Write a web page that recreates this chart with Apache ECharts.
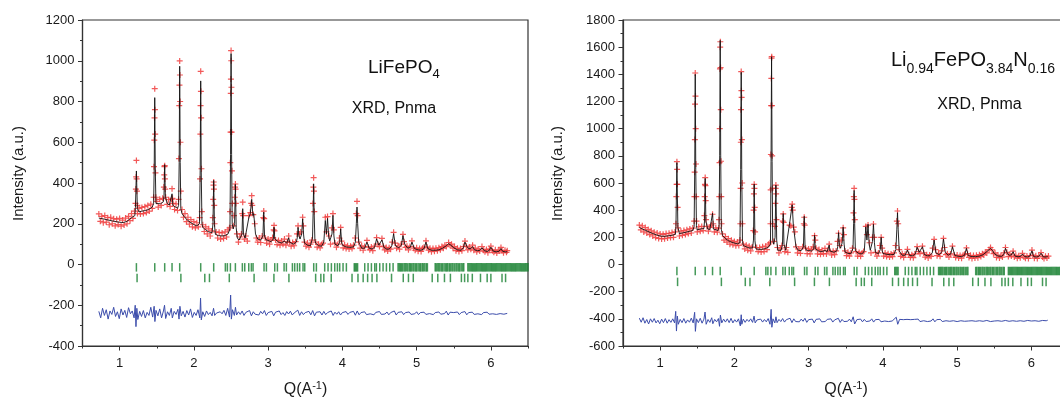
<!DOCTYPE html>
<html><head><meta charset="utf-8">
<script src="https://cdn.jsdelivr.net/npm/echarts@6/dist/echarts.min.js"></script>
<style>html,body{margin:0;padding:0;background:#fff}#c{width:1060px;height:397px}</style>
</head><body><div id="c"></div>
<script>
// ---------------- DATA ----------------
const xTickLabels = [1, 2, 3, 4, 5, 6];
const xMinorTicks = [0.5, 1.5, 2.5, 3.5, 4.5, 5.5, 6.5];

// reflection positions (Q), main phase (upper row) and second phase (lower row)
const phase1Ticks = [1.226,1.473,1.607,1.706,1.809,2.092,2.267,2.424,2.451,2.492,2.559,2.653,2.685,2.739,2.774,2.797,2.945,2.977,3.089,3.125,3.215,3.246,3.327,3.358,3.394,3.425,3.47,3.493,3.614,3.65,3.762,3.807,3.852,3.897,3.933,3.964,4.009,4.054,4.16,4.175,4.19,4.205,4.301,4.346,4.391,4.436,4.458,4.503,4.548,4.593,4.638,4.683,4.75,4.765,4.78,4.795,4.81,4.83,4.845,4.86,4.88,4.9,4.915,4.93,4.95,4.965,4.985,5.0,5.02,5.04,5.055,5.075,5.09,5.11,5.13,5.145,5.25,5.265,5.285,5.3,5.315,5.335,5.35,5.37,5.39,5.405,5.42,5.44,5.455,5.475,5.49,5.51,5.53,5.545,5.565,5.58,5.6,5.62,5.635,5.69,5.705,5.72,5.735,5.75,5.765,5.78,5.795,5.81,5.825,5.84,5.855,5.87,5.885,5.9,5.915,5.93,5.945,5.96,5.975,5.99,6.005,6.02,6.035,6.05,6.065,6.08,6.095,6.11,6.125,6.14,6.155,6.17,6.185,6.2,6.215,6.23,6.245,6.26,6.275,6.29,6.305,6.32,6.335,6.35,6.365,6.38,6.395,6.41,6.425,6.44,6.455,6.47,6.485,6.5];
const phase2Ticks = [1.235,1.825,2.147,2.21,2.477,2.811,3.078,3.28,3.64,3.71,3.75,3.85,4.13,4.21,4.28,4.34,4.40,4.465,4.662,4.82,4.89,4.955,5.21,5.285,5.375,5.455,5.603,5.646,5.69,5.75,5.86,5.95,6.0,6.15,6.198];

// ---- LiFePO4 (left) ----
const leftObs = [[0.72,248],[0.74,212],[0.76,236],[0.78,205],[0.80,240],[0.82,208],[0.84,230],[0.86,195],[0.88,232],[0.90,200],[0.92,225],[0.94,190],[0.96,222],[0.98,196],[1.00,226],[1.02,188],[1.04,218],[1.06,194],[1.08,228],[1.10,200],[1.12,236],[1.14,215],[1.16,250],[1.18,226],[1.20,262],[1.214,300],[1.219,370],[1.223,430],[1.226,511],[1.229,420],[1.233,360],[1.238,290],[1.24,250],[1.26,275],[1.28,248],[1.30,280],[1.32,250],[1.34,284],[1.36,255],[1.38,290],[1.40,262],[1.42,296],[1.44,275],[1.458,330],[1.463,480],[1.467,610],[1.470,720],[1.473,863],[1.476,760],[1.479,640],[1.483,450],[1.488,330],[1.50,310],[1.52,282],[1.54,320],[1.56,290],[1.58,325],[1.596,380],[1.601,440],[1.604,480],[1.607,485],[1.610,420],[1.614,370],[1.62,330],[1.64,295],[1.66,318],[1.68,285],[1.700,320],[1.706,372],[1.712,325],[1.72,300],[1.74,270],[1.76,298],[1.78,265],[1.794,320],[1.799,520],[1.803,780],[1.806,880],[1.809,999],[1.812,930],[1.815,800],[1.819,600],[1.824,360],[1.84,270],[1.86,232],[1.88,250],[1.90,210],[1.92,232],[1.94,198],[1.96,220],[1.98,185],[2.00,210],[2.02,180],[2.04,205],[2.06,185],[2.078,230],[2.083,420],[2.087,640],[2.090,780],[2.092,948],[2.095,850],[2.098,720],[2.102,470],[2.107,260],[2.12,195],[2.14,162],[2.16,185],[2.18,150],[2.20,175],[2.22,140],[2.24,165],[2.255,230],[2.260,320],[2.264,390],[2.267,405],[2.270,370],[2.274,290],[2.279,200],[2.30,160],[2.32,130],[2.34,158],[2.36,125],[2.38,155],[2.40,128],[2.42,160],[2.44,135],[2.46,170],[2.48,180],[2.487,260],[2.491,500],[2.494,650],[2.497,840],[2.499,910],[2.501,1050],[2.503,1000],[2.506,870],[2.509,650],[2.513,460],[2.518,300],[2.53,190],[2.54,240],[2.551,330],[2.555,380],[2.559,395],[2.562,370],[2.566,300],[2.58,150],[2.60,110],[2.62,135],[2.64,150],[2.652,250],[2.658,306],[2.664,240],[2.68,125],[2.70,140],[2.72,115],[2.74,240],[2.76,255],[2.772,300],[2.779,338],[2.786,290],[2.80,245],[2.82,200],[2.84,130],[2.86,110],[2.88,130],[2.90,108],[2.92,140],[2.935,230],[2.941,262],[2.947,225],[2.96,130],[2.98,105],[3.00,125],[3.02,100],[3.04,120],[3.06,132],[3.074,170],[3.08,192],[3.086,165],[3.10,120],[3.12,98],[3.14,118],[3.16,95],[3.18,115],[3.20,100],[3.22,125],[3.24,95],[3.26,112],[3.277,140],[3.29,108],[3.31,90],[3.33,108],[3.35,92],[3.37,112],[3.39,150],[3.403,190],[3.42,150],[3.44,160],[3.465,232],[3.475,190],[3.49,110],[3.51,90],[3.53,105],[3.55,85],[3.57,100],[3.59,120],[3.604,300],[3.609,380],[3.613,426],[3.617,360],[3.622,260],[3.64,110],[3.66,85],[3.68,100],[3.70,82],[3.72,98],[3.74,105],[3.77,232],[3.785,160],[3.80,235],[3.82,140],[3.84,100],[3.86,180],[3.873,250],[3.885,170],[3.90,105],[3.92,85],[3.94,100],[3.96,130],[3.977,182],[3.99,115],[4.01,82],[4.03,96],[4.05,78],[4.07,92],[4.09,76],[4.11,90],[4.13,78],[4.15,95],[4.17,130],[4.188,250],[4.197,310],[4.206,240],[4.22,110],[4.24,80],[4.26,92],[4.28,70],[4.30,88],[4.331,118],[4.35,85],[4.37,72],[4.39,86],[4.41,68],[4.43,90],[4.461,132],[4.48,100],[4.50,88],[4.533,128],[4.55,90],[4.57,72],[4.59,84],[4.61,66],[4.63,82],[4.65,75],[4.67,110],[4.69,158],[4.71,105],[4.73,80],[4.75,92],[4.77,75],[4.79,100],[4.816,148],[4.83,112],[4.85,84],[4.87,90],[4.89,72],[4.91,88],[4.937,116],[4.96,80],[4.98,70],[5.00,82],[5.02,65],[5.04,78],[5.06,64],[5.08,80],[5.10,85],[5.126,116],[5.14,86],[5.16,70],[5.18,80],[5.20,63],[5.22,78],[5.24,65],[5.26,80],[5.28,68],[5.30,82],[5.32,72],[5.34,88],[5.36,80],[5.38,95],[5.40,88],[5.431,108],[5.45,95],[5.47,100],[5.49,80],[5.51,88],[5.53,68],[5.55,80],[5.57,64],[5.59,78],[5.61,68],[5.63,88],[5.651,115],[5.67,90],[5.69,72],[5.71,86],[5.73,75],[5.754,95],[5.77,70],[5.79,80],[5.81,62],[5.83,76],[5.85,66],[5.88,88],[5.90,70],[5.92,62],[5.94,74],[5.96,58],[5.98,75],[6.00,90],[6.02,68],[6.04,60],[6.06,72],[6.08,56],[6.10,70],[6.12,66],[6.136,84],[6.15,68],[6.17,58],[6.19,70],[6.21,60],[6.22,68]];

const leftCalc = [[0.72,228],[0.80,222],[0.90,214],[1.00,207],[1.05,206],[1.10,212],[1.16,230],[1.205,240],[1.213,280],[1.226,459],[1.239,275],[1.26,258],[1.30,262],[1.35,265],[1.40,272],[1.44,282],[1.458,300],[1.466,480],[1.473,819],[1.480,480],[1.489,300],[1.50,292],[1.55,298],[1.59,308],[1.598,340],[1.607,490],[1.616,335],[1.64,300],[1.67,292],[1.695,295],[1.706,347],[1.717,290],[1.74,285],[1.78,276],[1.794,290],[1.802,500],[1.809,973],[1.816,500],[1.824,275],[1.84,250],[1.88,230],[1.92,216],[1.96,205],[2.00,196],[2.04,190],[2.075,200],[2.085,460],[2.092,901],[2.099,460],[2.109,200],[2.12,182],[2.16,170],[2.20,160],[2.245,156],[2.257,200],[2.267,413],[2.277,195],[2.29,148],[2.33,142],[2.38,140],[2.42,142],[2.46,150],[2.486,175],[2.494,540],[2.501,1035],[2.508,540],[2.516,200],[2.53,175],[2.548,200],[2.559,393],[2.57,180],[2.585,130],[2.61,120],[2.63,125],[2.648,150],[2.658,274],[2.668,150],[2.69,130],[2.71,128],[2.74,230],[2.76,250],[2.779,320],[2.795,240],[2.806,250],[2.83,150],[2.86,125],[2.90,120],[2.93,140],[2.941,257],[2.952,140],[2.97,122],[3.00,118],[3.04,112],[3.07,125],[3.08,183],[3.09,125],[3.10,118],[3.14,110],[3.18,106],[3.22,115],[3.25,104],[3.268,110],[3.277,131],[3.286,110],[3.30,103],[3.34,100],[3.38,110],[3.392,130],[3.403,182],[3.415,140],[3.43,125],[3.452,150],[3.465,224],[3.478,145],[3.49,105],[3.53,95],[3.57,92],[3.598,130],[3.606,250],[3.613,396],[3.620,250],[3.63,120],[3.64,105],[3.68,92],[3.72,90],[3.75,110],[3.77,216],[3.785,150],[3.80,226],[3.815,140],[3.83,115],[3.86,150],[3.873,241],[3.886,140],[3.90,100],[3.94,92],[3.965,110],[3.977,175],[3.99,110],[4.00,95],[4.05,86],[4.10,84],[4.15,86],[4.175,110],[4.188,200],[4.197,282],[4.206,200],[4.22,110],[4.26,80],[4.30,80],[4.331,110],[4.36,80],[4.40,76],[4.435,85],[4.461,126],[4.49,95],[4.51,100],[4.533,121],[4.56,84],[4.60,75],[4.63,76],[4.665,90],[4.69,151],[4.715,92],[4.76,82],[4.795,95],[4.816,142],[4.84,100],[4.88,80],[4.915,84],[4.937,110],[4.97,78],[5.02,72],[5.06,70],[5.10,78],[5.126,110],[5.15,78],[5.20,70],[5.25,70],[5.30,72],[5.35,80],[5.40,92],[5.431,102],[5.46,95],[5.50,82],[5.55,72],[5.60,70],[5.63,82],[5.651,110],[5.675,90],[5.70,78],[5.73,78],[5.754,88],[5.78,72],[5.82,68],[5.855,70],[5.88,82],[5.91,68],[5.95,64],[5.98,70],[6.00,85],[6.03,66],[6.07,62],[6.11,65],[6.136,78],[6.16,64],[6.20,62],[6.22,63]];

const leftDiff = [[0.72,-230],[0.745,-262],[0.77,-215],[0.795,-250],[0.82,-222],[0.845,-268],[0.87,-228],[0.895,-245],[0.92,-210],[0.945,-255],[0.97,-232],[0.995,-266],[1.02,-218],[1.045,-248],[1.07,-225],[1.095,-260],[1.12,-212],[1.145,-242],[1.17,-228],[1.195,-262],[1.21,-200],[1.22,-305],[1.232,-215],[1.245,-270],[1.27,-230],[1.295,-255],[1.32,-226],[1.345,-262],[1.37,-235],[1.395,-250],[1.42,-210],[1.445,-258],[1.465,-205],[1.475,-280],[1.49,-225],[1.515,-252],[1.54,-218],[1.565,-262],[1.59,-228],[1.605,-200],[1.62,-265],[1.645,-232],[1.67,-250],[1.695,-215],[1.71,-262],[1.735,-230],[1.76,-245],[1.785,-220],[1.80,-268],[1.812,-205],[1.83,-252],[1.855,-230],[1.88,-258],[1.905,-226],[1.93,-248],[1.955,-218],[1.98,-260],[2.005,-235],[2.03,-250],[2.055,-222],[2.08,-262],[2.09,-165],[2.10,-272],[2.12,-232],[2.145,-255],[2.17,-228],[2.195,-246],[2.22,-235],[2.245,-252],[2.265,-215],[2.28,-250],[2.305,-238],[2.33,-245],[2.355,-232],[2.38,-242],[2.405,-225],[2.43,-250],[2.455,-215],[2.48,-258],[2.495,-150],[2.505,-268],[2.52,-222],[2.545,-250],[2.56,-210],[2.575,-248],[2.60,-232],[2.625,-245],[2.65,-228],[2.675,-250],[2.70,-235],[2.725,-242],[2.75,-226],[2.775,-252],[2.80,-232],[2.825,-244],[2.85,-236],[2.875,-248],[2.90,-230],[2.925,-242],[2.95,-226],[2.975,-250],[3.00,-236],[3.025,-244],[3.05,-230],[3.075,-252],[3.10,-234],[3.125,-243],[3.15,-228],[3.175,-246],[3.20,-236],[3.225,-250],[3.25,-231],[3.275,-243],[3.30,-229],[3.325,-248],[3.35,-238],[3.375,-245],[3.40,-224],[3.425,-250],[3.45,-232],[3.475,-246],[3.50,-236],[3.525,-244],[3.55,-230],[3.575,-247],[3.60,-226],[3.625,-252],[3.65,-234],[3.675,-243],[3.70,-232],[3.725,-248],[3.75,-230],[3.775,-246],[3.80,-236],[3.825,-242],[3.85,-228],[3.875,-250],[3.90,-234],[3.925,-244],[3.95,-232],[3.975,-248],[4.00,-236],[4.025,-243],[4.05,-231],[4.075,-245],[4.10,-235],[4.125,-242],[4.15,-230],[4.175,-249],[4.20,-228],[4.225,-247],[4.25,-236],[4.275,-243],[4.30,-232],[4.325,-246],[4.35,-237],[4.375,-242],[4.40,-233],[4.425,-247],[4.45,-235],[4.475,-241],[4.50,-231],[4.525,-245],[4.55,-237],[4.575,-243],[4.60,-233],[4.625,-247],[4.65,-236],[4.675,-242],[4.70,-228],[4.725,-248],[4.75,-235],[4.775,-244],[4.80,-232],[4.825,-246],[4.85,-236],[4.875,-241],[4.90,-233],[4.925,-245],[4.95,-237],[4.975,-242],[5.00,-232],[5.025,-246],[5.05,-236],[5.075,-243],[5.10,-234],[5.125,-245],[5.15,-237],[5.175,-241],[5.20,-233],[5.225,-246],[5.25,-236],[5.275,-242],[5.30,-233],[5.325,-244],[5.35,-237],[5.375,-241],[5.40,-229],[5.425,-248],[5.45,-234],[5.475,-243],[5.50,-236],[5.525,-242],[5.55,-233],[5.575,-246],[5.60,-236],[5.625,-242],[5.65,-231],[5.675,-247],[5.70,-236],[5.725,-241],[5.75,-234],[5.775,-245],[5.80,-237],[5.825,-242],[5.85,-233],[5.875,-246],[5.90,-236],[5.925,-241],[5.95,-234],[5.975,-244],[6.00,-236],[6.025,-242],[6.05,-233],[6.075,-245],[6.10,-237],[6.125,-241],[6.15,-234],[6.175,-244],[6.20,-238],[6.22,-240]];

// ---- Li0.94FePO3.84N0.16 (right) ----
const rightObs = [[0.72,290],[0.74,255],[0.76,285],[0.78,240],[0.80,272],[0.82,232],[0.84,258],[0.86,220],[0.88,248],[0.90,210],[0.92,238],[0.94,198],[0.96,232],[0.98,192],[1.00,225],[1.02,188],[1.04,222],[1.06,190],[1.08,228],[1.10,195],[1.12,230],[1.14,198],[1.16,235],[1.18,200],[1.20,240],[1.214,300],[1.218,500],[1.222,590],[1.226,757],[1.229,700],[1.232,590],[1.236,420],[1.240,270],[1.26,210],[1.28,245],[1.30,215],[1.32,250],[1.34,220],[1.36,256],[1.38,228],[1.40,262],[1.42,232],[1.44,268],[1.458,320],[1.462,500],[1.465,680],[1.468,920],[1.470,1180],[1.473,1410],[1.476,1240],[1.479,1000],[1.483,740],[1.487,500],[1.491,320],[1.50,240],[1.52,278],[1.54,245],[1.56,280],[1.58,250],[1.596,360],[1.600,500],[1.604,590],[1.607,640],[1.610,580],[1.614,470],[1.618,330],[1.63,280],[1.65,245],[1.67,275],[1.69,290],[1.706,370],[1.715,300],[1.73,240],[1.75,270],[1.77,238],[1.79,268],[1.794,330],[1.797,500],[1.800,750],[1.803,1000],[1.806,1440],[1.809,1600],[1.811,1640],[1.814,1450],[1.817,1140],[1.820,760],[1.824,500],[1.828,300],[1.84,225],[1.86,180],[1.88,205],[1.90,165],[1.92,190],[1.94,150],[1.96,178],[1.98,145],[2.00,170],[2.02,138],[2.04,165],[2.06,140],[2.075,180],[2.080,300],[2.084,560],[2.087,900],[2.089,1140],[2.092,1420],[2.095,1280],[2.098,1230],[2.101,920],[2.105,600],[2.110,300],[2.12,150],[2.14,115],[2.16,142],[2.18,105],[2.20,135],[2.22,100],[2.24,128],[2.255,250],[2.259,400],[2.263,520],[2.267,590],[2.270,560],[2.274,420],[2.279,240],[2.30,125],[2.32,95],[2.34,125],[2.36,92],[2.38,130],[2.40,95],[2.42,135],[2.44,110],[2.46,150],[2.48,160],[2.486,300],[2.489,550],[2.492,810],[2.495,1170],[2.498,1370],[2.501,1520],[2.503,1530],[2.506,1170],[2.509,800],[2.513,560],[2.518,300],[2.53,170],[2.545,280],[2.552,450],[2.556,560],[2.559,585],[2.563,520],[2.567,330],[2.58,125],[2.60,85],[2.62,115],[2.64,140],[2.652,320],[2.658,372],[2.664,310],[2.68,95],[2.70,125],[2.72,90],[2.743,290],[2.76,285],[2.772,420],[2.779,445],[2.786,400],[2.80,275],[2.815,240],[2.83,130],[2.85,85],[2.87,115],[2.89,82],[2.92,130],[2.935,300],[2.941,348],[2.947,290],[2.96,120],[2.98,80],[3.00,115],[3.02,78],[3.04,110],[3.06,130],[3.08,212],[3.09,180],[3.10,120],[3.12,78],[3.14,110],[3.16,75],[3.18,105],[3.20,80],[3.22,118],[3.24,78],[3.26,105],[3.277,150],[3.29,95],[3.31,70],[3.33,98],[3.35,72],[3.37,100],[3.39,170],[3.403,230],[3.42,140],[3.44,180],[3.465,270],[3.475,220],[3.49,100],[3.51,65],[3.53,90],[3.55,62],[3.57,85],[3.59,120],[3.604,380],[3.609,500],[3.613,561],[3.617,480],[3.622,330],[3.64,95],[3.66,62],[3.68,88],[3.70,60],[3.72,85],[3.74,95],[3.77,280],[3.785,220],[3.80,290],[3.82,160],[3.84,85],[3.86,200],[3.873,298],[3.885,200],[3.90,90],[3.92,62],[3.94,85],[3.96,140],[3.977,200],[3.99,120],[4.01,62],[4.03,85],[4.05,58],[4.07,80],[4.09,55],[4.11,78],[4.13,58],[4.15,85],[4.17,140],[4.188,320],[4.197,394],[4.206,300],[4.22,110],[4.24,60],[4.26,80],[4.28,52],[4.30,75],[4.331,112],[4.35,72],[4.37,52],[4.39,72],[4.41,50],[4.43,78],[4.461,132],[4.48,95],[4.50,80],[4.533,135],[4.55,85],[4.57,55],[4.59,72],[4.61,48],[4.63,70],[4.65,60],[4.67,120],[4.69,185],[4.71,110],[4.73,65],[4.75,82],[4.77,60],[4.79,100],[4.816,192],[4.83,125],[4.85,72],[4.87,80],[4.89,55],[4.91,78],[4.937,135],[4.96,70],[4.98,52],[5.00,70],[5.02,48],[5.04,66],[5.06,46],[5.08,68],[5.10,75],[5.126,122],[5.14,80],[5.16,52],[5.18,68],[5.20,45],[5.22,66],[5.24,48],[5.26,68],[5.28,50],[5.30,72],[5.32,58],[5.34,80],[5.36,70],[5.38,92],[5.40,85],[5.43,110],[5.45,125],[5.47,108],[5.49,80],[5.51,86],[5.53,52],[5.55,70],[5.57,48],[5.59,66],[5.61,55],[5.63,85],[5.651,125],[5.67,90],[5.69,58],[5.71,76],[5.73,62],[5.754,98],[5.77,56],[5.79,68],[5.81,46],[5.83,64],[5.85,50],[5.88,82],[5.90,56],[5.92,46],[5.94,62],[5.96,44],[5.98,65],[6.008,106],[6.02,70],[6.04,46],[6.06,64],[6.08,44],[6.10,62],[6.13,88],[6.15,56],[6.17,44],[6.19,60],[6.21,48],[6.23,62]];

const rightCalc = [[0.72,272],[0.76,262],[0.80,252],[0.85,240],[0.90,228],[0.95,218],[1.00,210],[1.05,207],[1.10,210],[1.16,215],[1.205,222],[1.213,280],[1.226,750],[1.239,275],[1.26,228],[1.30,232],[1.35,238],[1.40,245],[1.44,250],[1.458,280],[1.466,700],[1.473,1400],[1.480,700],[1.489,285],[1.50,255],[1.55,262],[1.59,265],[1.598,320],[1.607,634],[1.616,320],[1.64,262],[1.67,258],[1.695,265],[1.706,377],[1.717,262],[1.74,255],[1.78,250],[1.794,280],[1.802,800],[1.809,1650],[1.816,800],[1.824,260],[1.84,215],[1.88,190],[1.92,175],[1.96,165],[2.00,158],[2.04,152],[2.075,160],[2.085,700],[2.092,1415],[2.099,700],[2.109,170],[2.12,140],[2.16,130],[2.20,122],[2.245,122],[2.257,180],[2.267,592],[2.277,175],[2.29,115],[2.33,112],[2.38,112],[2.42,118],[2.46,128],[2.486,150],[2.494,760],[2.501,1530],[2.508,760],[2.516,180],[2.53,150],[2.548,200],[2.559,585],[2.57,180],[2.585,105],[2.61,100],[2.63,105],[2.648,150],[2.658,375],[2.668,150],[2.69,105],[2.71,105],[2.743,300],[2.76,300],[2.779,440],[2.795,280],[2.806,290],[2.83,130],[2.86,105],[2.90,102],[2.93,130],[2.941,355],[2.952,130],[2.97,105],[3.00,103],[3.04,100],[3.07,115],[3.08,215],[3.09,115],[3.10,105],[3.14,98],[3.18,96],[3.22,103],[3.25,95],[3.268,100],[3.277,143],[3.286,100],[3.30,92],[3.34,90],[3.38,100],[3.392,130],[3.403,235],[3.415,140],[3.43,120],[3.452,160],[3.465,275],[3.478,150],[3.49,92],[3.53,82],[3.57,80],[3.598,120],[3.606,300],[3.613,545],[3.620,300],[3.63,100],[3.64,90],[3.68,80],[3.72,78],[3.75,100],[3.77,278],[3.785,180],[3.80,296],[3.815,150],[3.83,105],[3.86,170],[3.873,296],[3.886,160],[3.90,88],[3.94,80],[3.965,110],[3.977,200],[3.99,105],[4.00,82],[4.05,75],[4.10,72],[4.15,74],[4.175,110],[4.188,260],[4.197,381],[4.206,260],[4.22,100],[4.26,68],[4.30,68],[4.331,107],[4.36,66],[4.40,64],[4.435,75],[4.461,127],[4.49,90],[4.51,100],[4.533,131],[4.56,72],[4.60,64],[4.63,65],[4.665,85],[4.69,180],[4.715,85],[4.76,72],[4.795,95],[4.816,188],[4.84,90],[4.88,68],[4.915,78],[4.937,131],[4.97,66],[5.02,60],[5.06,58],[5.10,68],[5.126,119],[5.15,66],[5.20,58],[5.25,58],[5.30,62],[5.35,72],[5.40,95],[5.45,119],[5.48,100],[5.50,80],[5.55,62],[5.60,60],[5.63,75],[5.651,119],[5.675,85],[5.70,68],[5.73,70],[5.754,94],[5.78,62],[5.82,57],[5.855,60],[5.88,77],[5.91,58],[5.95,55],[5.98,62],[6.008,101],[6.03,58],[6.07,55],[6.10,60],[6.13,83],[6.16,56],[6.20,56],[6.22,58]];

const rightDiff = [[0.72,-395],[0.745,-425],[0.77,-392],[0.795,-432],[0.82,-405],[0.845,-438],[0.87,-400],[0.895,-425],[0.92,-398],[0.945,-430],[0.97,-410],[0.995,-436],[1.02,-402],[1.045,-428],[1.07,-398],[1.095,-432],[1.12,-406],[1.145,-426],[1.17,-400],[1.195,-430],[1.21,-345],[1.22,-490],[1.232,-380],[1.245,-440],[1.27,-404],[1.295,-428],[1.32,-398],[1.345,-432],[1.37,-408],[1.395,-425],[1.42,-395],[1.445,-430],[1.465,-352],[1.475,-492],[1.49,-400],[1.515,-428],[1.54,-396],[1.565,-432],[1.59,-402],[1.605,-350],[1.62,-440],[1.645,-405],[1.67,-426],[1.695,-392],[1.71,-436],[1.735,-404],[1.76,-422],[1.785,-398],[1.80,-455],[1.812,-372],[1.83,-430],[1.855,-402],[1.88,-424],[1.905,-400],[1.93,-428],[1.955,-396],[1.98,-430],[2.005,-406],[2.03,-424],[2.055,-400],[2.08,-452],[2.092,-370],[2.10,-440],[2.12,-402],[2.145,-426],[2.17,-404],[2.195,-420],[2.22,-400],[2.245,-426],[2.265,-380],[2.28,-430],[2.305,-408],[2.33,-420],[2.355,-402],[2.38,-424],[2.405,-405],[2.43,-422],[2.455,-398],[2.48,-440],[2.495,-330],[2.505,-462],[2.52,-400],[2.545,-430],[2.56,-385],[2.575,-428],[2.60,-404],[2.625,-420],[2.65,-398],[2.675,-424],[2.70,-406],[2.725,-418],[2.75,-396],[2.775,-428],[2.80,-400],[2.825,-420],[2.85,-408],[2.875,-422],[2.90,-402],[2.925,-418],[2.95,-396],[2.975,-426],[3.00,-406],[3.025,-418],[3.05,-402],[3.075,-430],[3.10,-404],[3.125,-418],[3.15,-400],[3.175,-422],[3.20,-408],[3.225,-420],[3.25,-404],[3.275,-418],[3.30,-400],[3.325,-424],[3.35,-408],[3.375,-418],[3.40,-396],[3.425,-426],[3.45,-404],[3.475,-420],[3.50,-408],[3.525,-418],[3.55,-402],[3.575,-422],[3.60,-385],[3.62,-438],[3.65,-406],[3.675,-418],[3.70,-402],[3.725,-422],[3.75,-404],[3.775,-420],[3.80,-406],[3.825,-416],[3.85,-400],[3.875,-424],[3.90,-406],[3.925,-418],[3.95,-404],[3.975,-422],[4.00,-408],[4.025,-416],[4.05,-402],[4.075,-420],[4.10,-406],[4.125,-416],[4.15,-402],[4.18,-388],[4.20,-440],[4.225,-404],[4.25,-418],[4.275,-406],[4.30,-420],[4.325,-404],[4.35,-416],[4.375,-406],[4.40,-420],[4.425,-404],[4.45,-416],[4.475,-402],[4.50,-420],[4.525,-408],[4.55,-414],[4.575,-404],[4.60,-420],[4.625,-406],[4.65,-416],[4.675,-400],[4.70,-422],[4.725,-406],[4.75,-416],[4.775,-404],[4.80,-420],[4.825,-406],[4.85,-414],[4.875,-404],[4.90,-418],[4.925,-408],[4.95,-414],[4.975,-404],[5.00,-420],[5.025,-408],[5.05,-414],[5.075,-402],[5.10,-418],[5.125,-406],[5.15,-416],[5.175,-406],[5.20,-414],[5.225,-404],[5.25,-418],[5.275,-408],[5.30,-414],[5.325,-404],[5.35,-418],[5.375,-408],[5.40,-412],[5.425,-400],[5.45,-420],[5.475,-406],[5.50,-416],[5.525,-408],[5.55,-414],[5.575,-404],[5.60,-418],[5.625,-408],[5.65,-412],[5.675,-404],[5.70,-418],[5.725,-408],[5.75,-414],[5.775,-402],[5.80,-418],[5.825,-408],[5.85,-414],[5.875,-404],[5.90,-418],[5.925,-408],[5.95,-412],[5.975,-404],[6.00,-416],[6.025,-408],[6.05,-414],[6.075,-404],[6.10,-418],[6.125,-408],[6.15,-412],[6.175,-406],[6.20,-414],[6.22,-410]];

// tick-row levels (intensity units) for each panel
const leftTickRows = [-14, -66];
const rightTickRows = [-48, -128];

// ---------------- CHART ----------------
const FONT = '"Liberation Sans", Arial, Helvetica, sans-serif';
const AX = '#333';
const crossPath = 'path://M4,0H6V4H10V6H6V10H4V6H0V4H4Z';

function gridDef(left) {
  return { left: left, top: 20, width: 445.5, height: 326, show: true, borderColor: AX, borderWidth: 1.2,
           backgroundColor: 'transparent', containLabel: false, outerBoundsMode: 'none' };
}
function yAxisDef(gi, min, max) {
  return { type: 'value', gridIndex: gi, min: min, max: max, interval: 200,
    axisLine: { show: true, onZero: false, lineStyle: { color: AX, width: 1.2 } },
    axisTick: { show: true, length: 4.5, lineStyle: { color: AX, width: 1 } },
    minorTick: { show: true, splitNumber: 2, length: 2.5, lineStyle: { color: AX, width: 1 } },
    splitLine: { show: false }, minorSplitLine: { show: false },
    axisLabel: { color: '#1a1a1a', fontSize: 13, fontFamily: FONT, margin: 8, formatter: v => String(v) } };
}
function xMajorDef(gi) {
  return { type: 'value', gridIndex: gi, min: 0.5, max: 6.5, position: 'bottom',
    axisLine: { show: true, onZero: false, lineStyle: { color: AX, width: 1.2 } },
    axisTick: { show: true, length: 4.5, customValues: xTickLabels, lineStyle: { color: AX, width: 1 } },
    splitLine: { show: false },
    axisLabel: { color: '#1a1a1a', fontSize: 13, fontFamily: FONT, margin: 11, customValues: xTickLabels, formatter: v => String(v) } };
}
function xMinorDef(gi) {
  return { type: 'value', gridIndex: gi, min: 0.5, max: 6.5, position: 'bottom',
    axisLine: { show: false, onZero: false },
    axisTick: { show: true, length: 2.5, customValues: xMinorTicks, lineStyle: { color: AX, width: 1 } },
    splitLine: { show: false }, axisLabel: { show: false } };
}
function panelSeries(xi, yi, obs, calc, diff, rows) {
  return [
    { type: 'scatter', xAxisIndex: xi, yAxisIndex: yi, data: obs, symbol: crossPath, symbolSize: 6,
      itemStyle: { color: '#f03c3c', opacity: 0.85 }, silent: true, z: 2 },
    { type: 'line', xAxisIndex: xi, yAxisIndex: yi, data: calc, showSymbol: false, symbol: 'none',
      lineStyle: { color: '#111', width: 0.9 }, silent: true, z: 3 },
    { type: 'line', xAxisIndex: xi, yAxisIndex: yi, data: diff, showSymbol: false, symbol: 'none',
      lineStyle: { color: '#3b4cab', width: 1 }, silent: true, z: 3 },
    { type: 'scatter', xAxisIndex: xi, yAxisIndex: yi, data: phase1Ticks.map(q => [q, rows[0]]),
      symbol: 'rect', symbolSize: [1.5, 8.5], itemStyle: { color: '#17802f' }, silent: true, z: 2 },
    { type: 'scatter', xAxisIndex: xi, yAxisIndex: yi, data: phase2Ticks.map(q => [q, rows[1]]),
      symbol: 'rect', symbolSize: [1.5, 8.5], itemStyle: { color: '#17802f' }, silent: true, z: 2 }
  ];
}

const richMain = (fs) => ({ fontSize: fs, fontFamily: FONT, fill: '#111' });
const richSub = (fs, drop) => ({ fontSize: fs, fontFamily: FONT, fill: '#111', padding: [drop, 0, 0, 0] });

const chart = echarts.init(document.getElementById('c'), null, { renderer: 'canvas' });
chart.setOption({
  animation: false,
  backgroundColor: '#fff',
  grid: [gridDef(82.5), gridDef(623)],
  xAxis: [xMajorDef(0), xMinorDef(0), xMajorDef(1), xMinorDef(1)],
  yAxis: [yAxisDef(0, -400, 1200), yAxisDef(1, -600, 1800)],
  series: [].concat(
    panelSeries(0, 0, leftObs, leftCalc, leftDiff, leftTickRows),
    panelSeries(2, 1, rightObs, rightCalc, rightDiff, rightTickRows)
  ),
  graphic: [
    { type: 'text', x: 368, y: 67.6, z: 10, style: { text: '{m|LiFePO}{s|4}', align: 'left', verticalAlign: 'middle',
      rich: { m: richMain(19), s: richSub(13, 14) } } },
    { type: 'text', x: 394, y: 108.4, z: 10, style: { text: 'XRD, Pnma', fontSize: 16, fontFamily: FONT, fill: '#111', align: 'center', verticalAlign: 'middle' } },
    { type: 'text', x: 891, y: 60.6, z: 10, style: { text: '{m|Li}{s|0.94}{m|FePO}{s|3.84}{m|N}{s|0.16}', align: 'left', verticalAlign: 'middle',
      rich: { m: richMain(20), s: richSub(14, 17) } } },
    { type: 'text', x: 979.5, y: 104.4, z: 10, style: { text: 'XRD, Pnma', fontSize: 16, fontFamily: FONT, fill: '#111', align: 'center', verticalAlign: 'middle' } },
    { type: 'text', x: 18.8, y: 173.5, rotation: Math.PI / 2, z: 10, style: { text: 'Intensity (a.u.)', fontSize: 15, fontFamily: FONT, fill: '#1a1a1a', align: 'center', verticalAlign: 'middle' } },
    { type: 'text', x: 558, y: 173.5, rotation: Math.PI / 2, z: 10, style: { text: 'Intensity (a.u.)', fontSize: 15, fontFamily: FONT, fill: '#1a1a1a', align: 'center', verticalAlign: 'middle' } },
    { type: 'text', x: 305.5, y: 380, z: 10, style: { text: '{m|Q(A}{p|-1}{m|)}', align: 'center', verticalAlign: 'top',
      rich: { m: { fontSize: 16, fontFamily: FONT, fill: '#1a1a1a', lineHeight: 20 },
              p: { fontSize: 11, fontFamily: FONT, fill: '#1a1a1a', lineHeight: 12, verticalAlign: 'top' } } } },
    { type: 'text', x: 846, y: 380, z: 10, style: { text: '{m|Q(A}{p|-1}{m|)}', align: 'center', verticalAlign: 'top',
      rich: { m: { fontSize: 16, fontFamily: FONT, fill: '#1a1a1a', lineHeight: 20 },
              p: { fontSize: 11, fontFamily: FONT, fill: '#1a1a1a', lineHeight: 12, verticalAlign: 'top' } } } }
  ]
});
</script>
</body></html>
